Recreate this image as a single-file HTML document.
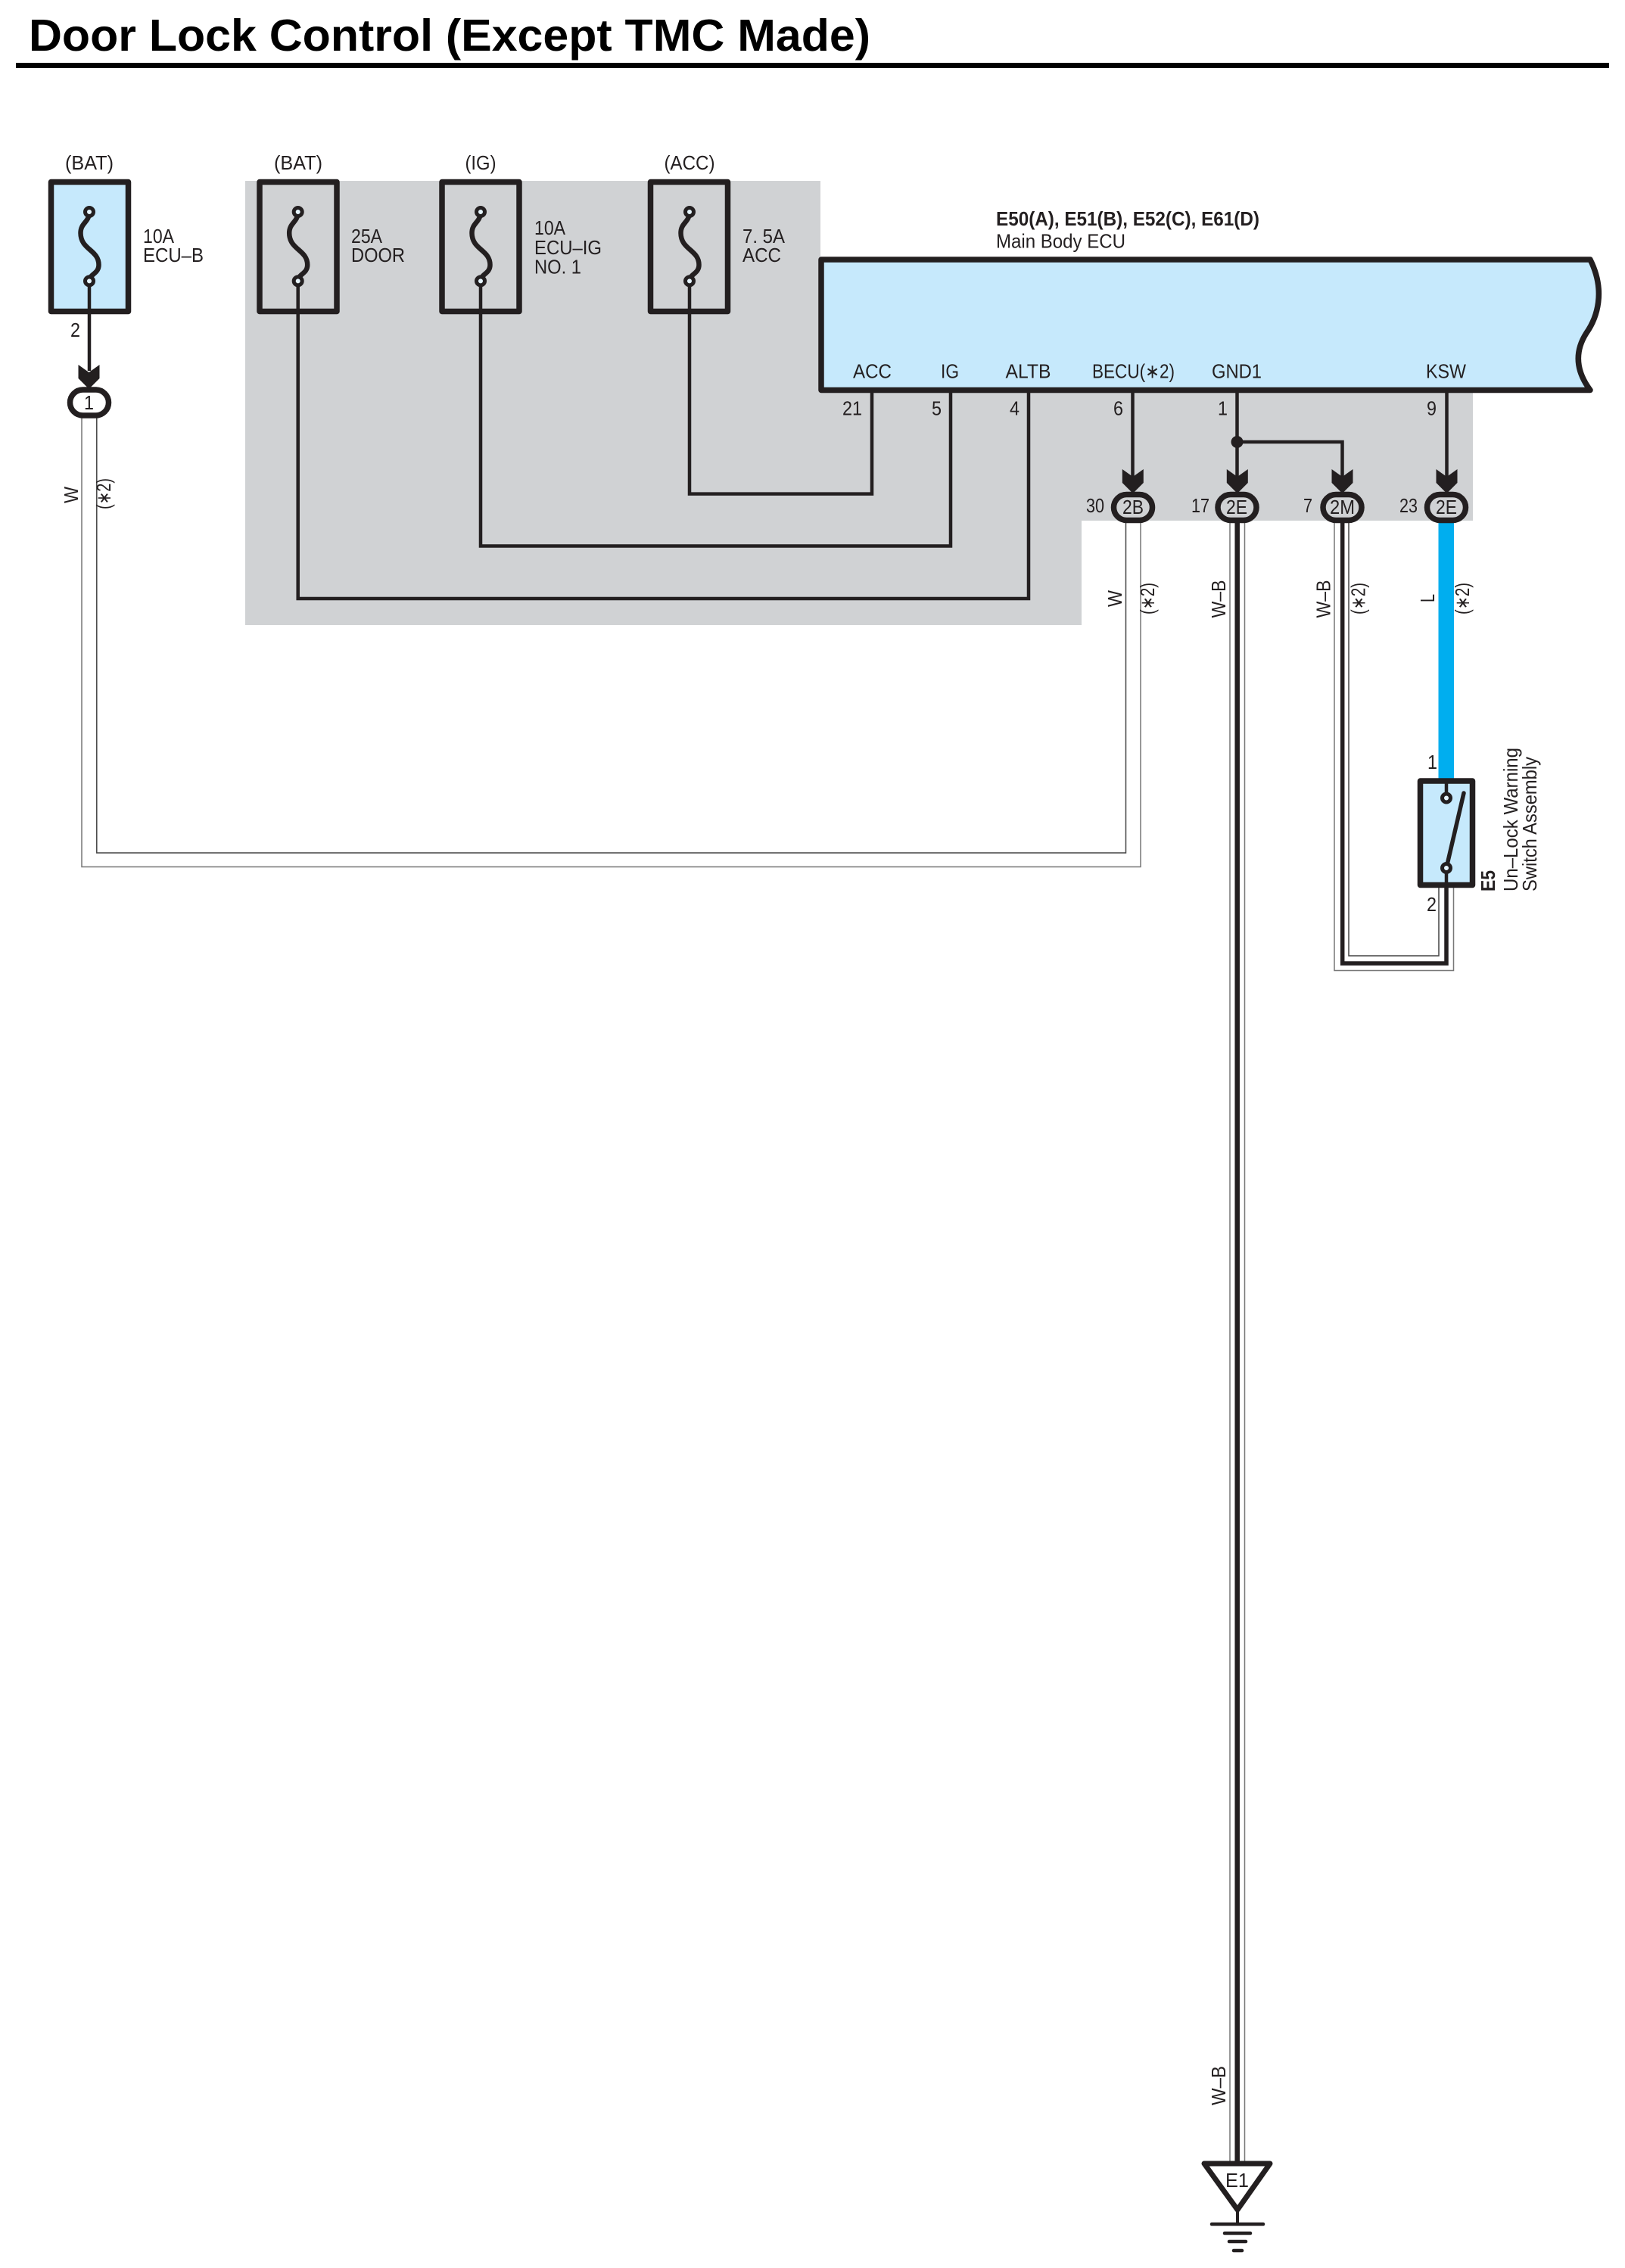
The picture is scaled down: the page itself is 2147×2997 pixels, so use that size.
<!DOCTYPE html>
<html>
<head>
<meta charset="utf-8">
<style>
html,body{margin:0;padding:0;background:#fff;}
svg{display:block;}
text{font-family:"Liberation Sans",sans-serif;font-size:26px;fill:#231f20;}
</style>
</head>
<body>
<svg xmlns="http://www.w3.org/2000/svg" width="2147" height="2997" viewBox="0 0 2147 2997">
<defs>
<g id="fuse">
  <path d="M0 0 C0 14 -11.500 14 -11.500 28 C-11.500 50 12.500 50 12.500 70 C12.500 82 0 82 0 91.400" fill="none" stroke="#231f20" stroke-width="6.500"/>
  <circle cx="0" cy="0" r="5.500" fill="#e6f5fd" stroke="#231f20" stroke-width="5"/>
  <circle cx="0" cy="91.400" r="5.500" fill="#e6f5fd" stroke="#231f20" stroke-width="5"/>
</g>
<path id="arrow" d="M-14 0 L0 10 L14 0 L14 18 L0 32 L-14 18 Z" fill="#231f20"/>
<rect id="oval" x="-25.500" y="-17" width="51" height="34" rx="17" ry="17" fill="none" stroke="#231f20" stroke-width="7.500"/>
</defs>

<rect width="2147" height="2997" fill="#fff"/>

<!-- Title -->
<text x="38" y="67" textLength="1112" lengthAdjust="spacingAndGlyphs" style="font-size:59px;font-weight:bold;fill:#000">Door Lock Control (Except TMC Made)</text>
<rect x="21" y="83" width="2105" height="7" fill="#000"/>

<!-- Grey region -->
<polygon points="324,239 1084,239 1084,519 1946,519 1946,688 1429,688 1429,826 324,826" fill="#d0d2d4"/>

<!-- Fuse boxes -->
<rect x="67.500" y="240.500" width="102" height="171" fill="#c6e9fc" stroke="#231f20" stroke-width="7.500" stroke-linejoin="round"/>
<rect x="343" y="240.500" width="102" height="171" fill="none" stroke="#231f20" stroke-width="7.500" stroke-linejoin="round"/>
<rect x="584" y="240.500" width="102" height="171" fill="none" stroke="#231f20" stroke-width="7.500" stroke-linejoin="round"/>
<rect x="859.500" y="240.500" width="102" height="171" fill="none" stroke="#231f20" stroke-width="7.500" stroke-linejoin="round"/>

<!-- ECU -->
<path d="M1085 343 H2101 C2122 385 2110 420 2096 440 C2080 465 2082 490 2101 515.500 H1085 Z" fill="#c6e9fc" stroke="#231f20" stroke-width="7.500" stroke-linejoin="round"/>

<!-- Black signal wires -->
<g fill="none" stroke="#231f20" stroke-width="4.500">
  <path d="M118 372 V490"/>
  <path d="M393.700 372 V791 H1359 V519"/>
  <path d="M635 372 V721.500 H1256 V519"/>
  <path d="M911 372 V652.600 H1152 V519"/>
  <path d="M1496.500 519 V630"/>
  <path d="M1634.500 519 V630"/>
  <path d="M1634.500 584 H1773.500 V630"/>
  <path d="M1911.500 519 V630"/>
</g>
<circle cx="1634.500" cy="584" r="8" fill="#231f20"/>

<!-- Fuse symbols -->
<use href="#fuse" x="118" y="280"/>
<use href="#fuse" x="393.700" y="280"/>
<use href="#fuse" x="635" y="280"/>
<use href="#fuse" x="911" y="280"/>

<!-- Double wires -->
<g fill="none" stroke-width="1.500">
  <path d="M127.800 552 V1127 H1487.500 V691" stroke="#444"/>
  <path d="M108 552 V1145.500 H1507 V691" stroke="#777"/>
  <path d="M1625 691 V2856" stroke="#777"/>
  <path d="M1644.500 691 V2856" stroke="#777"/>
  <path d="M1763 691 V1282.500 H1920.500 V1172" stroke="#777"/>
  <path d="M1782 691 V1263 H1901 V1172" stroke="#444"/>
</g>
<path d="M1634.700 691 V2857" fill="none" stroke="#231f20" stroke-width="6.500"/>
<path d="M1773.700 691 V1273 H1911 V1172" fill="none" stroke="#231f20" stroke-width="5.500"/>
<rect x="1900.500" y="691" width="20.500" height="340" fill="#00aeef"/>

<!-- Arrowheads -->
<use href="#arrow" x="117.500" y="482"/>
<use href="#arrow" x="1496.800" y="620"/>
<use href="#arrow" x="1634.800" y="620"/>
<use href="#arrow" x="1773.500" y="620"/>
<use href="#arrow" x="1911.500" y="620"/>

<!-- Connector ovals -->
<g transform="translate(118,532)"><rect x="-25.500" y="-17" width="51" height="34" rx="17" fill="#fff" stroke="#231f20" stroke-width="7.500"/></g>
<use href="#oval" x="1497" y="670.500"/>
<use href="#oval" x="1634.500" y="670.500"/>
<use href="#oval" x="1773.500" y="670.500"/>
<use href="#oval" x="1911" y="670.500"/>

<!-- Switch -->
<rect x="1876.500" y="1032" width="69" height="137.500" fill="#c6e9fc" stroke="#231f20" stroke-width="7.500" stroke-linejoin="round"/>
<path d="M1911 1032 V1050 M1911 1151 V1170" stroke="#231f20" stroke-width="4.500" fill="none"/>
<path d="M1911 1147 L1934 1048" stroke="#231f20" stroke-width="5.500" stroke-linecap="round" fill="none"/>
<circle cx="1911" cy="1054.500" r="5.500" fill="#e6f5fd" stroke="#231f20" stroke-width="5"/>
<circle cx="1911" cy="1147" r="5.500" fill="#e6f5fd" stroke="#231f20" stroke-width="5"/>

<!-- Ground -->
<polygon points="1591,2859 1678,2859 1635,2920" fill="#fff" stroke="#231f20" stroke-width="7" stroke-linejoin="round"/>
<path d="M1635 2920 V2939" stroke="#231f20" stroke-width="4" fill="none"/>
<g stroke="#231f20" stroke-width="4.500" stroke-linecap="round" fill="none">
  <path d="M1601 2939 H1669"/>
  <path d="M1618 2951 H1652"/>
  <path d="M1624 2962 H1646"/>
  <path d="M1630 2974 H1641"/>
</g>

<!-- Fuse top labels -->
<text x="86" y="224" textLength="64" lengthAdjust="spacingAndGlyphs">(BAT)</text>
<text x="362" y="224" textLength="64" lengthAdjust="spacingAndGlyphs">(BAT)</text>
<text x="614.500" y="224" textLength="41" lengthAdjust="spacingAndGlyphs">(IG)</text>
<text x="877.500" y="224" textLength="67" lengthAdjust="spacingAndGlyphs">(ACC)</text>

<!-- Fuse side labels -->
<text x="189" y="321" textLength="41" lengthAdjust="spacingAndGlyphs">10A</text>
<text x="189" y="346" textLength="80" lengthAdjust="spacingAndGlyphs">ECU–B</text>
<text x="464" y="321" textLength="41" lengthAdjust="spacingAndGlyphs">25A</text>
<text x="464" y="346" textLength="71" lengthAdjust="spacingAndGlyphs">DOOR</text>
<text x="706" y="310" textLength="41" lengthAdjust="spacingAndGlyphs">10A</text>
<text x="706" y="336" textLength="89" lengthAdjust="spacingAndGlyphs">ECU–IG</text>
<text x="706" y="361.500" textLength="62" lengthAdjust="spacingAndGlyphs">NO. 1</text>
<text x="981" y="321" textLength="56" lengthAdjust="spacingAndGlyphs">7. 5A</text>
<text x="981" y="346" textLength="51" lengthAdjust="spacingAndGlyphs">ACC</text>

<!-- ECU labels -->
<text x="1316" y="298" textLength="348" lengthAdjust="spacingAndGlyphs" style="font-weight:bold">E50(A), E51(B), E52(C), E61(D)</text>
<text x="1316" y="327.500" textLength="171" lengthAdjust="spacingAndGlyphs">Main Body ECU</text>

<!-- ECU pin labels -->
<text x="1127" y="499.500" textLength="51" lengthAdjust="spacingAndGlyphs">ACC</text>
<text x="1243" y="499.500" textLength="24" lengthAdjust="spacingAndGlyphs">IG</text>
<text x="1328.500" y="499.500" textLength="60" lengthAdjust="spacingAndGlyphs">ALTB</text>
<text x="1443" y="499.500" textLength="109" lengthAdjust="spacingAndGlyphs">BECU(∗2)</text>
<text x="1601" y="499.500" textLength="66" lengthAdjust="spacingAndGlyphs">GND1</text>
<text x="1884" y="499.500" textLength="53" lengthAdjust="spacingAndGlyphs">KSW</text>

<!-- ECU pin numbers -->
<text x="1113" y="548.500" textLength="26" lengthAdjust="spacingAndGlyphs">21</text>
<text x="1231" y="548.500" textLength="13" lengthAdjust="spacingAndGlyphs">5</text>
<text x="1334" y="548.500" textLength="13" lengthAdjust="spacingAndGlyphs">4</text>
<text x="1471" y="548.500" textLength="13" lengthAdjust="spacingAndGlyphs">6</text>
<text x="1609" y="548.500" textLength="13" lengthAdjust="spacingAndGlyphs">1</text>
<text x="1885" y="548.500" textLength="13" lengthAdjust="spacingAndGlyphs">9</text>

<!-- Connector numbers -->
<text x="1435" y="677" textLength="24" lengthAdjust="spacingAndGlyphs">30</text>
<text x="1574" y="677" textLength="24" lengthAdjust="spacingAndGlyphs">17</text>
<text x="1722" y="677" textLength="12" lengthAdjust="spacingAndGlyphs">7</text>
<text x="1849" y="677" textLength="24" lengthAdjust="spacingAndGlyphs">23</text>
<text x="93" y="445" textLength="13" lengthAdjust="spacingAndGlyphs">2</text>
<text x="111" y="541" textLength="13" lengthAdjust="spacingAndGlyphs">1</text>
<text x="1483" y="679" textLength="28" lengthAdjust="spacingAndGlyphs">2B</text>
<text x="1620" y="679" textLength="28" lengthAdjust="spacingAndGlyphs">2E</text>
<text x="1757" y="679" textLength="33" lengthAdjust="spacingAndGlyphs">2M</text>
<text x="1897" y="679" textLength="28" lengthAdjust="spacingAndGlyphs">2E</text>
<text x="1886" y="1016" textLength="13" lengthAdjust="spacingAndGlyphs">1</text>
<text x="1885" y="1204" textLength="13" lengthAdjust="spacingAndGlyphs">2</text>
<text x="1619" y="2890" textLength="31" lengthAdjust="spacingAndGlyphs">E1</text>

<!-- Rotated wire labels -->
<text transform="translate(103,665) rotate(-90)" textLength="22" lengthAdjust="spacingAndGlyphs">W</text>
<text transform="translate(146,673) rotate(-90)" textLength="41" lengthAdjust="spacingAndGlyphs">(∗2)</text>
<text transform="translate(1482,802) rotate(-90)" textLength="22" lengthAdjust="spacingAndGlyphs">W</text>
<text transform="translate(1525,812) rotate(-90)" textLength="42" lengthAdjust="spacingAndGlyphs">(∗2)</text>
<text transform="translate(1619,816.500) rotate(-90)" textLength="50" lengthAdjust="spacingAndGlyphs">W–B</text>
<text transform="translate(1757.500,816.500) rotate(-90)" textLength="50" lengthAdjust="spacingAndGlyphs">W–B</text>
<text transform="translate(1803.500,812) rotate(-90)" textLength="42" lengthAdjust="spacingAndGlyphs">(∗2)</text>
<text transform="translate(1895,796) rotate(-90)" textLength="11" lengthAdjust="spacingAndGlyphs">L</text>
<text transform="translate(1941,812) rotate(-90)" textLength="42" lengthAdjust="spacingAndGlyphs">(∗2)</text>
<text transform="translate(1619,2782) rotate(-90)" textLength="52" lengthAdjust="spacingAndGlyphs">W–B</text>

<!-- Switch labels -->
<text transform="translate(1975,1178) rotate(-90)" textLength="28" lengthAdjust="spacingAndGlyphs" style="font-weight:bold">E5</text>
<text transform="translate(2005,1178) rotate(-90)" textLength="190" lengthAdjust="spacingAndGlyphs">Un–Lock Warning</text>
<text transform="translate(2030,1178) rotate(-90)" textLength="178" lengthAdjust="spacingAndGlyphs">Switch Assembly</text>
</svg>
</body>
</html>
